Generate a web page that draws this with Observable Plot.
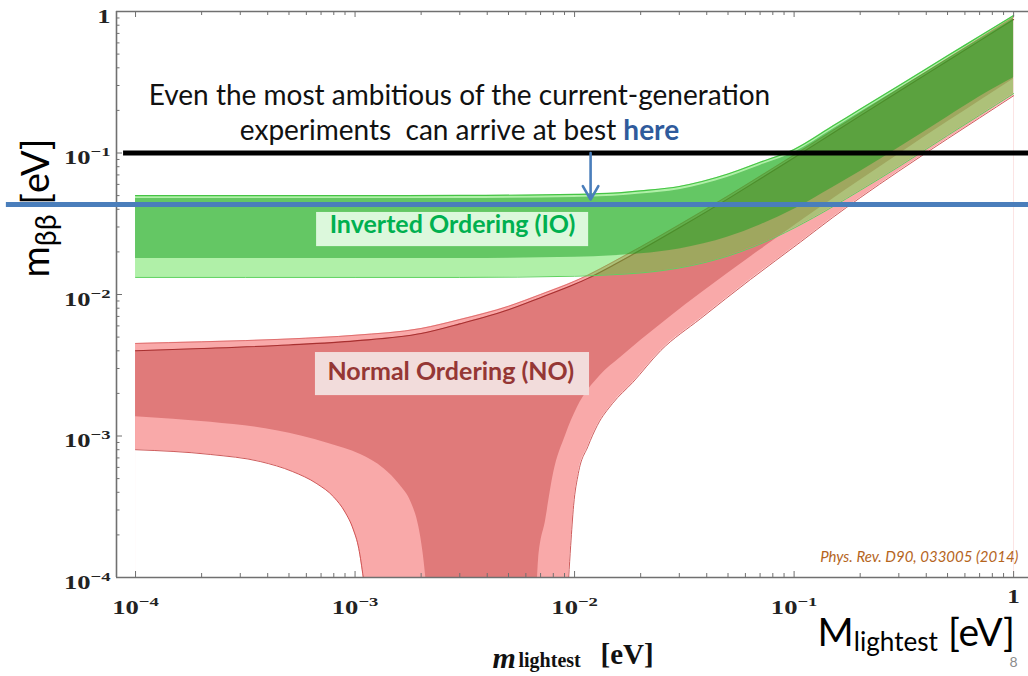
<!DOCTYPE html>
<html><head><meta charset="utf-8">
<script src="https://cdn.jsdelivr.net/npm/d3@7"></script>
<script src="https://cdn.jsdelivr.net/npm/@observablehq/plot@0.6"></script>
<style>html,body{margin:0;padding:0;background:#fff;} svg{display:block}</style>
</head><body><div id="chart"></div>
<script>
// ---------- axes ----------
const xDomain = [8.19e-5, 1.169];
const yDomain = [1e-4, 1];
const majorTicks = [1e-4, 1e-3, 1e-2, 1e-1, 1];
const tickLabels = ["10^{−4}", "10^{−3}", "10^{−2}", "10^{−1}", "1"];
const minorTicks = [2e-4,3e-4,4e-4,5e-4,6e-4,7e-4,8e-4,9e-4,
                    2e-3,3e-3,4e-3,5e-3,6e-3,7e-3,8e-3,9e-3,
                    2e-2,3e-2,4e-2,5e-2,6e-2,7e-2,8e-2,9e-2,
                    0.2,0.3,0.4,0.5,0.6,0.7,0.8,0.9];

// ---------- Inverted Ordering band ----------
const ioX          = [1e-4, 1e-3, 3e-3, 1e-2, 1.5e-2, 2e-2, 3e-2, 5e-2, 7e-2, 0.1, 0.15, 0.2, 0.3, 0.5, 0.7, 1];
const ioLightUpper = [0.050, 0.050, 0.0501, 0.051, 0.052, 0.054, 0.058, 0.071, 0.086, 0.106, 0.155, 0.204, 0.299, 0.486, 0.668, 0.937];
const ioLightLower = [0.0132, 0.0132, 0.0132, 0.01346, 0.0138, 0.0142, 0.0154, 0.0187, 0.0227, 0.0295, 0.0417, 0.0544, 0.080, 0.133, 0.185, 0.263];
const ioDarkUpper  = [0.0476, 0.0476, 0.0477, 0.0485, 0.0494, 0.0513, 0.0551, 0.0675, 0.0817, 0.1007, 0.147, 0.194, 0.284, 0.462, 0.635, 0.89];
const ioDarkLower  = [0.018, 0.018, 0.018, 0.0183, 0.0188, 0.0194, 0.021, 0.0255, 0.031, 0.040, 0.057, 0.074, 0.109, 0.18, 0.25, 0.34];

// ---------- Normal Ordering band ----------
const noX          = [1e-4, 2e-4, 5e-4, 1e-3, 2e-3, 3e-3, 5e-3, 7e-3, 1e-2, 1.15e-2, 1.5e-2, 2e-2, 3e-2, 5e-2, 7e-2, 0.1, 0.15, 0.2, 0.3, 0.5, 0.7, 1];
const noLightUpper = [0.00451, 0.00463, 0.00485, 0.00515, 0.00575, 0.00665, 0.00825, 0.0100, 0.0124, 0.0137, 0.0170, 0.0217, 0.0311, 0.0497, 0.0685, 0.0967, 0.144, 0.191, 0.2835, 0.465, 0.645, 0.911];
const noDarkUpper  = [0.0040, 0.00415, 0.0044, 0.0047, 0.0053, 0.0062, 0.0078, 0.0095, 0.0118, 0.0130, 0.0161, 0.0206, 0.0296, 0.0474, 0.0655, 0.0925, 0.138, 0.183, 0.272, 0.447, 0.62, 0.877];
const noDarkLowerLeftX  = [1e-4, 2.2e-4, 4.4e-4, 7.5e-4, 1.06e-3, 1.35e-3, 1.6e-3, 1.8e-3, 1.95e-3, 2.04e-3, 2.1e-3];
const noDarkLowerLeftY  = [1.37e-3, 1.25e-3, 1.09e-3, 8.9e-4, 7.4e-4, 5.9e-4, 4.5e-4, 3.4e-4, 2.3e-4, 1.5e-4, 1e-4];
const noDarkLowerRightX = [6.78e-3, 6.85e-3, 7.38e-3, 8.02e-3, 9.1e-3, 1.03e-2, 1.31e-2, 1.62e-2, 2.0e-2, 2.74e-2, 3.75e-2, 4.98e-2, 7.03e-2, 0.107, 0.15, 0.2, 0.3, 0.5, 0.7, 1];
const noDarkLowerRightY = [1e-4, 1.32e-4, 2.53e-4, 5.43e-4, 1.01e-3, 1.59e-3, 2.68e-3, 3.59e-3, 4.73e-3, 7.0e-3, 1.016e-2, 1.41e-2, 2.07e-2, 3.29e-2, 4.73e-2, 6.42e-2, 9.8e-2, 0.166, 0.233, 0.333];
const noLightLowerLeftX  = [1e-4, 2.2e-4, 3.7e-4, 5.2e-4, 6.7e-4, 8.0e-4, 9.0e-4, 9.8e-4, 1.04e-3, 1.09e-3];
const noLightLowerLeftY  = [8.0e-4, 7.4e-4, 6.6e-4, 5.6e-4, 4.6e-4, 3.7e-4, 2.9e-4, 2.2e-4, 1.6e-4, 1e-4];
const noLightLowerRightX = [9.4e-3, 9.6e-3, 9.9e-3, 1.04e-2, 1.15e-2, 1.27e-2, 1.49e-2, 1.84e-2, 2.47e-2, 3.75e-2, 6.34e-2, 0.107, 0.15, 0.2, 0.3, 0.5, 0.7, 1];
const noLightLowerRightY = [1e-4, 1.68e-4, 3.23e-4, 5.43e-4, 8.43e-4, 1.19e-3, 1.7e-3, 2.39e-3, 4.02e-3, 6.76e-3, 1.28e-2, 2.35e-2, 3.5e-2, 4.83e-2, 7.45e-2, 0.126, 0.177, 0.254];

// ---------- annotations (data units) ----------
const refLines = [
  {y: 0.1,    x1: 8.82e-5, x2: 1.169, color: "#000000"},
  {y: 0.0433, x1: 2.58e-5, x2: 1.169, color: "#4a7ebb"}
];
const arrowNote = [{x: 0.01183, y1: 0.1, y2: 0.0469}];
const noteLines = [
  {text: "Even the most ambitious of the current-generation", x: 2.99e-3, y: 0.22},
  {text: "experiments  can arrive at best #{here}", x: 2.99e-3, y: 0.1245}
];
const bandLabels = [
  {text: "Inverted Ordering (IO)", x: 2.78e-3, y: 0.0272, x1: 6.68e-4, x2: 1.159e-2, y1: 0.0218, y2: 0.038, color: "#00b050", box: "#dcf8dc"},
  {text: "Normal Ordering (NO)",   x: 2.73e-3, y: 0.00247, x1: 6.6e-4, x2: 1.17e-2, y1: 1.93e-3, y2: 3.89e-3, color: "#953735", box: "#f2dcdb"}
];
const yTitle = ["m_{ββ} [eV]"];
const xTitleSlide = ["M_{lightest} [eV]"];
const xTitleParts = ["m", "lightest", "[eV]"];
const citation = ["Phys. Rev. D90, 033005 (2014)"];
const pageNumber = ["8"];

// ---------- tables ----------
const noRows = noX.map((x, i) => ({x, light: noLightUpper[i], dark: noDarkUpper[i]}));
const pairs = (xs, ys) => xs.map((x, i) => ({x, y: ys[i]}));
const dLL = pairs(noDarkLowerLeftX, noDarkLowerLeftY);
const dLR = pairs(noDarkLowerRightX, noDarkLowerRightY);
const lLL = pairs(noLightLowerLeftX, noLightLowerLeftY);
const lLR = pairs(noLightLowerRightX, noLightLowerRightY);
const ioRows = ioX.map((x, i) => ({x, lu: ioLightUpper[i], ll: ioLightLower[i], du: ioDarkUpper[i], dl: ioDarkLower[i]}));
const xTickRows = majorTicks.map((x, i) => ({x, label: tickLabels[i]}));

const NO_LIGHT = "#f9a9a9", NO_DARK = "#e07a7a", IO_LIGHT = "#4fde3d", IO_DARK = "#179e1f";
const AX = "#707070";
const FW = 912, FH = 566;
const bottom = yDomain[0];
const serif = "Liberation Serif";

const svg = Plot.plot({
  width: 1028, height: 676,
  marginLeft: 116, marginRight: 0, marginTop: 11, marginBottom: 99,
  x: {type: "log", domain: xDomain, axis: null},
  y: {type: "log", domain: yDomain, axis: null},
  style: {background: "white", fontFamily: "Lato", overflow: "visible"},
  marks: [
    // NO band painted in layers
    Plot.areaY(noRows, {x: "x", y1: bottom, y2: "light", fill: NO_LIGHT, curve: "monotone-x"}),
    Plot.areaY(noRows, {x: "x", y1: bottom, y2: "dark", fill: NO_DARK, curve: "monotone-x"}),
    Plot.areaY(dLL, {x: "x", y1: bottom, y2: "y", fill: NO_LIGHT, curve: "monotone-x"}),
    Plot.areaY(dLR, {x: "x", y1: bottom, y2: "y", fill: NO_LIGHT, curve: "monotone-x"}),
    Plot.areaY(lLL, {x: "x", y1: bottom, y2: "y", fill: "white", curve: "monotone-x"}),
    Plot.areaY(lLR, {x: "x", y1: bottom, y2: "y", fill: "white", curve: "monotone-x"}),
    Plot.line(noRows, {x: "x", y: "light", stroke: "#d86060", strokeWidth: 0.8, curve: "monotone-x"}),
    Plot.line(noRows, {x: "x", y: "dark", stroke: "#a83030", strokeWidth: 1.1, curve: "monotone-x"}),
    Plot.line(lLL, {x: "x", y: "y", stroke: "#c84848", strokeWidth: 0.9, curve: "monotone-x"}),
    Plot.line(lLR, {x: "x", y: "y", stroke: "#c84848", strokeWidth: 0.9, curve: "monotone-x"}),
    // IO band, translucent
    Plot.areaY(ioRows, {x: "x", y1: "ll", y2: "lu", fill: IO_LIGHT, fillOpacity: 0.45, curve: "monotone-x"}),
    Plot.areaY(ioRows, {x: "x", y1: "dl", y2: "du", fill: IO_DARK, fillOpacity: 0.5, curve: "monotone-x"}),
    Plot.line(ioRows, {x: "x", y: "lu", stroke: "#45c445", strokeWidth: 1.2, curve: "monotone-x"}),
    Plot.line(ioRows, {x: "x", y: "ll", stroke: "#5fd25f", strokeWidth: 1, curve: "monotone-x"}),
    // frame
    Plot.ruleX([xDomain[0]], {stroke: AX, strokeWidth: 1.6}),
    Plot.ruleY([yDomain[0], yDomain[1]], {stroke: AX, strokeWidth: 1.6}),
    // inward ticks
    Plot.tickY(majorTicks, {y: d => d, stroke: AX, insetRight: FW - 6}),
    Plot.tickY(minorTicks, {y: d => d, stroke: AX, insetRight: FW - 3.5}),
    Plot.tickX(majorTicks, {x: d => d, stroke: AX, insetBottom: FH - 6}),
    Plot.tickX(minorTicks, {x: d => d, stroke: AX, insetBottom: FH - 4}),
    Plot.tickX(majorTicks, {x: d => d, stroke: AX, insetTop: FH - 6}),
    Plot.tickX(minorTicks, {x: d => d, stroke: AX, insetTop: FH - 4}),
    // tick labels
    Plot.text(majorTicks, {y: d => d, text: (d, i) => tickLabels[i], frameAnchor: "left", textAnchor: "end", lineAnchor: "bottom",
      dx: -6, dy: 11, fontFamily: serif, fontWeight: "bold", fontSize: 19, fill: "#222"}),
    Plot.text(xTickRows.slice(0, 4), {x: "x", text: "label", frameAnchor: "bottom", textAnchor: "middle", lineAnchor: "bottom",
      dy: 36, fontFamily: serif, fontWeight: "bold", fontSize: 19, fill: "#222"}),
    Plot.text(xTickRows.slice(4), {x: "x", text: "label", frameAnchor: "bottom", textAnchor: "middle", lineAnchor: "bottom",
      dy: 25, fontFamily: serif, fontWeight: "bold", fontSize: 18, fill: "#222"}),
    // bold serif x title
    Plot.text([xTitleParts[0]], {text: d => d, frameAnchor: "bottom-left", textAnchor: "start", lineAnchor: "bottom", dx: 376, dy: 90,
      fontFamily: serif, fontWeight: "bold", fontStyle: "italic", fontSize: 30, fill: "#111"}),
    Plot.text([xTitleParts[1]], {text: d => d, frameAnchor: "bottom-left", textAnchor: "start", lineAnchor: "bottom", dx: 402, dy: 89,
      fontFamily: serif, fontWeight: "bold", fontSize: 20, fill: "#111"}),
    Plot.text([xTitleParts[2]], {text: d => d, frameAnchor: "bottom-left", textAnchor: "start", lineAnchor: "bottom", dx: 484, dy: 86,
      fontFamily: serif, fontWeight: "bold", fontSize: 29, fill: "#111"}),
    // reference lines + arrow
    Plot.ruleY(refLines, {y: "y", x1: "x1", x2: "x2", stroke: "color", strokeWidth: 5}),
    Plot.arrow(arrowNote, {x: "x", y1: "y1", y2: "y2", stroke: "#4a7ebb", strokeWidth: 2.6, headLength: 12, headAngle: 60}),
    // slide notes
    Plot.text(noteLines, {x: "x", y: "y", text: "text", textAnchor: "middle", lineAnchor: "bottom", fontFamily: "Lato", fontSize: 28, fill: "#111"}),
    Plot.rect(bandLabels, {x1: "x1", x2: "x2", y1: "y1", y2: "y2", fill: "box"}),
    Plot.text(bandLabels, {x: "x", y: "y", text: "text", fill: "color", textAnchor: "middle", lineAnchor: "bottom", fontFamily: "Lato", fontWeight: "bold", fontSize: 25}),
    Plot.text(yTitle, {text: d => d, frameAnchor: "top-left", rotate: -90, textAnchor: "start", lineAnchor: "bottom", dx: -68, dy: 266,
      fontFamily: "Lato", fontSize: 38, fill: "#000"}),
    Plot.text(xTitleSlide, {text: d => d, frameAnchor: "bottom-left", textAnchor: "start", lineAnchor: "bottom", dx: 701, dy: 68,
      fontFamily: "Lato", fontSize: 39, fill: "#000"}),
    Plot.text(citation, {text: d => d, frameAnchor: "bottom-right", textAnchor: "end", lineAnchor: "bottom", dx: -10, dy: -16,
      fontFamily: "Lato", fontStyle: "italic", fontSize: 15, fill: "#b5651d"}),
    Plot.text(pageNumber, {text: d => d, frameAnchor: "bottom-right", textAnchor: "end", lineAnchor: "bottom", dx: -11, dy: 89,
      fontFamily: "Lato", fontSize: 14, fill: "#8c8c8c"})
  ]
});
document.getElementById("chart").append(svg);

// rich text: ^{sup} _{sub} #{accent}
function richify(t, o) {
  const s = t.textContent;
  const fs = parseFloat(getComputedStyle(t).fontSize) || 16;
  t.textContent = "";
  let cur = 0, m;
  const re = /([_^#])\{([^}]*)\}|([^_^#]+)/g;
  while ((m = re.exec(s))) {
    const ts = document.createElementNS("http://www.w3.org/2000/svg", "tspan");
    let shift = 0;
    if (m[1] === "^") { shift = -o.supShift * fs; ts.setAttribute("font-size", o.supScale * fs); ts.textContent = m[2]; }
    else if (m[1] === "_") { shift = o.subShift * fs; ts.setAttribute("font-size", o.subScale * fs); ts.textContent = m[2]; }
    else if (m[1] === "#") { ts.setAttribute("font-weight", "bold"); ts.setAttribute("fill", o.accent); ts.textContent = m[2]; }
    else ts.textContent = m[3];
    if (shift !== cur) { ts.setAttribute("dy", shift - cur); cur = shift; }
    t.appendChild(ts);
  }
  if (o.stretch) {
    const w = t.getComputedTextLength();
    t.setAttribute("textLength", w * o.stretch);
    t.setAttribute("lengthAdjust", "spacingAndGlyphs");
  }
}
svg.querySelectorAll("text").forEach(t => {
  t.style.whiteSpace = "pre";
  const s = t.textContent;
  const isSerif = /Liberation Serif/.test(getComputedStyle(t).fontFamily);
  if (tickLabels.includes(s) && isSerif) richify(t, {supScale: 0.7, supShift: 0.42, stretch: 1.4});
  else if (s.includes("#{")) richify(t, {accent: "#2f5b9c"});
  else if (s === yTitle[0]) richify(t, {subScale: 0.75, subShift: 0.2});
  else if (s === xTitleSlide[0]) richify(t, {subScale: 0.67, subShift: 0.13});
});
</script>
</body></html>
